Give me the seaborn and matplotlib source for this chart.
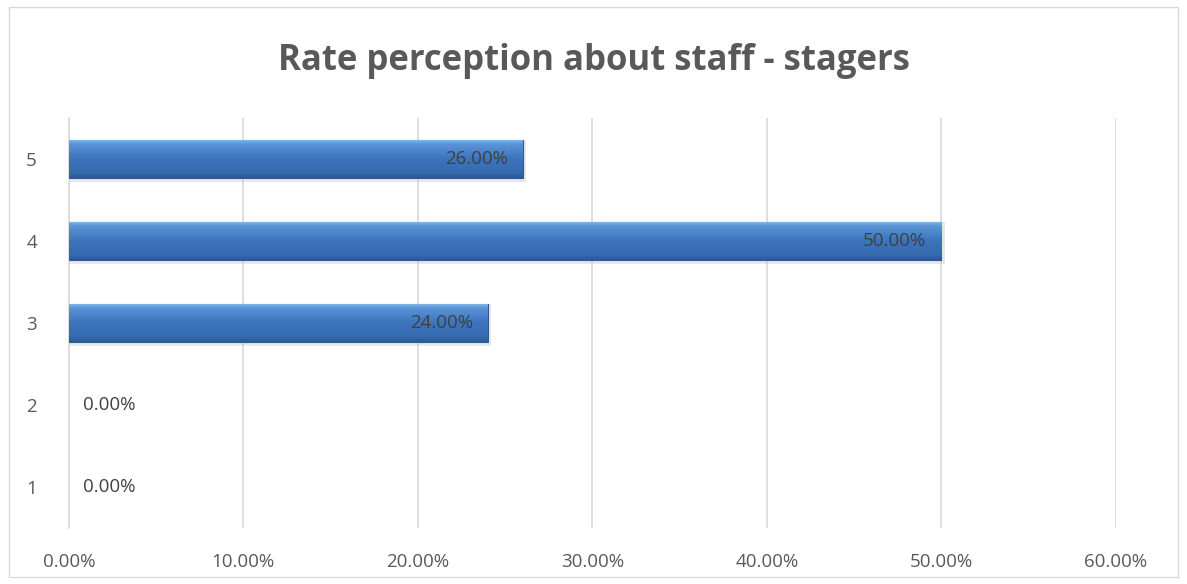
import numpy as np
import pandas as pd
import matplotlib
matplotlib.use("Agg")
import matplotlib.pyplot as plt
from matplotlib.patches import Rectangle
import seaborn as sns

categories = ["1", "2", "3", "4", "5"]
shares = [0.00, 0.00, 0.24, 0.50, 0.26]
x_ticks = [0.0, 0.1, 0.2, 0.3, 0.4, 0.5, 0.6]
title = "Rate perception about staff - stagers"

sns.set_theme(style="white")
plt.rcParams["font.family"] = ["Open Sans", "DejaVu Sans"]

df = pd.DataFrame({"rating": categories, "share": shares})
# show highest rating on top
order = categories[::-1]

fig = plt.figure(figsize=(11.87, 5.84), dpi=100)
ax = fig.add_axes([0.058, 0.096, 0.882, 0.702])

sns.barplot(data=df, y="rating", x="share", order=order, orient="h",
            color="#3f77bf", width=0.47, ax=ax, zorder=3,
            edgecolor="#2f5a92", linewidth=0.8)

# vertical gradient shading on each bar
grad = np.linspace(0, 1, 256).reshape(-1, 1)
cmap = matplotlib.colors.LinearSegmentedColormap.from_list(
    "bar", [(0.0, "#8cc0ef"), (0.12, "#5b95d8"), (0.5, "#3c74bd"),
            (0.88, "#356aad"), (1.0, "#2a578f")])
for p in ax.patches:
    w = p.get_width()
    if w <= 0:
        p.set_linewidth(0)
        continue
    y0, h = p.get_y(), p.get_height()
    im = ax.imshow(grad, cmap=cmap, aspect="auto", zorder=3.5,
                   extent=[p.get_x(), p.get_x() + w, y0 + h, y0],
                   interpolation="bicubic")
    im.set_clip_path(p)
    shadow = Rectangle((p.get_x(), y0), w + 0.002, h + 0.04,
                       facecolor="#bfbfbf", alpha=0.35, zorder=2.5,
                       edgecolor="none")
    ax.add_patch(shadow)

ax.set_ylim(4.5, -0.5)
ax.set_xlim(0, 0.6)
ax.set_xticks(x_ticks)
ax.set_xticklabels([f"{t*100:.2f}%" for t in x_ticks])
ax.grid(axis="x", color="#d9d9d9", linewidth=1.2, zorder=0)
ax.grid(axis="y", visible=False)
for s in ["top", "right", "bottom"]:
    ax.spines[s].set_visible(False)
ax.spines["left"].set_color("#d9d9d9")
ax.spines["left"].set_linewidth(1.2)
ax.tick_params(axis="both", length=0, labelsize=13.5, colors="#595959", pad=18)
ax.tick_params(axis="y", pad=23)
ax.set_xlabel("")
ax.set_ylabel("")

# value labels
for i, cat in enumerate(order):
    v = shares[categories.index(cat)]
    txt = f"{v*100:.2f}%"
    if v > 0:
        ax.text(v - 0.0085, i, txt, ha="right", va="center", fontsize=13.5,
                color="#404040", zorder=5)
    else:
        ax.text(0.008, i, txt, ha="left", va="center", fontsize=13.5,
                color="#404040", zorder=5)

fig.text(0.5, 0.895, title, ha="center", va="center", fontsize=25,
         fontweight="bold", color="#595959")

# outer chart border
fig.add_artist(Rectangle((0.008, 0.012), 0.984, 0.976, transform=fig.transFigure,
                         fill=False, edgecolor="#d9d9d9", linewidth=1.0))

fig.savefig("out.png", dpi=100, facecolor="white")
